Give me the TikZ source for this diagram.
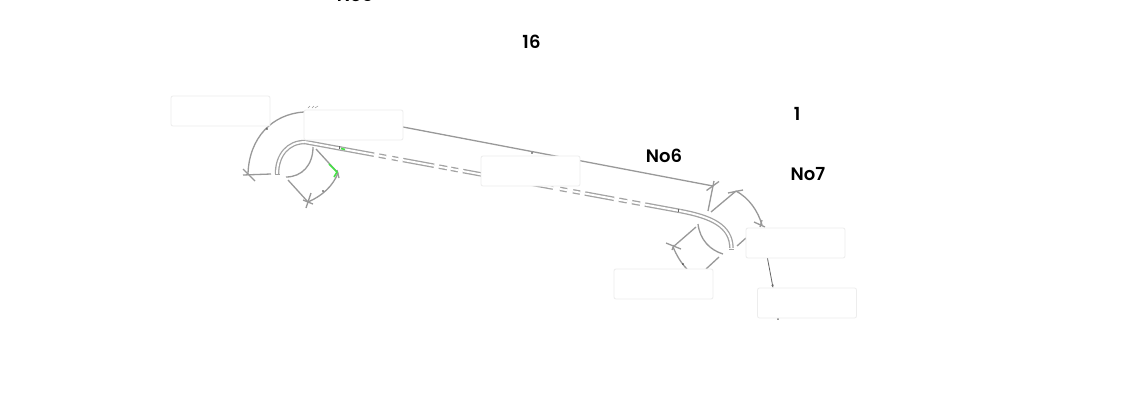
\documentclass[tikz,border=0pt]{standalone}
\usepackage{fontspec}
\setmainfont{Poppins}
\newfontfamily\tagfont{Poppins SemiBold}
\usetikzlibrary{arrows.meta, calc}

\definecolor{okgreen}{RGB}{70,225,70}

\tikzset{
  labelbox/.style={draw=black!7, fill=white, rounded corners=2pt, line width=0.8pt, minimum width=99pt, minimum height=30pt, inner sep=0pt},
  tag/.style={font=\fontsize{18}{20}\selectfont\tagfont, inner sep=0pt},
  pipe/.style={draw=black!36, double=white, double distance=1.9pt, line width=1.3pt},
  dim/.style={draw=black!40, line width=1.3pt},
  okmark/.style={draw=okgreen, line width=1.6pt},
  speck/.style={circle, fill=black!80, inner sep=0pt, minimum size=1.8pt}
}

\begin{document}
\begin{tikzpicture}[x=1pt, y=-1pt]
\path[use as bounding box, clip] (0,0) rectangle (1138,413);
\fill[white] (0,0) rectangle (1138,413);

\coordinate (PA) at (305,142);
\coordinate (PB) at (680,211);

% pipe, broken run in the middle
\draw[pipe] (277,174) .. controls (277,155) and (288,142) .. (PA);
\foreach \a/\b in {305/374, 379/386, 392/398, 403/434, 439/447, 451/458, 463/500, 530/553, 560/567, 573/580, 585/614, 619/627, 632/640, 645/680} {
  \draw[pipe] ($(PA)!{(\a-305)/375}!(PB)$) -- ($(PA)!{(\b-305)/375}!(PB)$);
}
\draw[pipe] (PB) .. controls (712,217) and (731,226) .. (731.5,248);
\draw[draw=black!36, line width=1pt] (275,174) -- (279.5,174);
\draw[draw=black!36, line width=1pt] (729,249) -- (734,249);
\draw[draw=black!60, line width=0.7pt] (339,146) -- (339,149);
\draw[draw=black!60, line width=0.7pt] (678.5,209) -- (678.5,212);

% left bend dimensions
\coordinate (LT) at (304,112);
\coordinate (LE) at (248,174);
\draw[dim] (LT) .. controls (272,114) and (249,138) .. (LE);
\draw[dim] (243,169) -- (255,181);
\draw[dim] (243,175) -- (271,174);
\draw[dim] (313,147) .. controls (313,165) and (302,177) .. (286,177);
\coordinate (LR) at (338,173);
\coordinate (LB) at (308,202);
\draw[dim] (316,149) -- (LR);
\draw[dim] (LR) .. controls (333,186) and (322,196) .. (LB);
\draw[dim] (288,180) -- (LB);
\draw[dim] (311,193) -- (306,208);
\draw[dim] (303,200) -- (313,204);
\draw[dim] (337,170) -- (339,178);
\draw[okmark] (329,164) -- (337,172) -- (334,177);
\draw[okmark] (341,148.5) -- (345,149.5);
\draw[dim, line width=0.5pt] (308,108) -- (310,106) (312,108) -- (314,106) (315,108) -- (318,106);
\node[speck] (s1) at (267,129) {};
\node[speck] (s2) at (323,191) {};

% top run dimension
\coordinate (TE) at (713,186);
\draw[dim] (403,127) -- (TE);
\draw[dim] (708,211) -- (714,181);
\draw[dim] (706.5,190.5) -- (719,181.5);
\node[speck] (s3) at (532,153) {};

% right bend dimensions
\coordinate (RT) at (736,191);
\coordinate (RE) at (762,225);
\draw[dim] (711,212) -- (RT);
\draw[dim] (728,193) -- (743,190);
\draw[dim] (RT) .. controls (749,198) and (758,211) .. (RE);
\draw[dim] (754,222) -- (765,227);
\draw[dim] (762,220) -- (760,227);
\draw[dim] (746,238) -- (737,246);
\draw[dim] (698,224) .. controls (700,240) and (710,250) .. (723,254);
\coordinate (RL) at (673,247);
\draw[dim] (696,227) -- (RL);
\draw[dim] (666,243) -- (681,249);
\draw[dim] (674,245) -- (672,250);
\draw[dim] (RL) .. controls (677,256) and (681,263) .. (687,269);
\draw[dim] (706,269) -- (719,257);
\node[speck] (s4) at (683,264) {};
\node[speck] (s5) at (778,319) {};

% boxes sit over the drawing
\node[labelbox] (B1) at (220.5,111) {};
\node[labelbox] (B2) at (353.5,125) {};
\node[labelbox] (B3) at (530.5,171) {};
\node[labelbox] (B4) at (663.5,284) {};
\node[labelbox] (B5) at (795.5,243) {};
\node[labelbox] (B6) at (807,303) {};
\draw[draw=black!60, line width=0.8pt, -{Stealth[length=3pt,width=2.5pt]}] ([xshift=-28pt]B5.south) -- ([xshift=-34pt]B6.north);

\node[tag] (T1) at (355,-5) {No5};
\node[tag] (T2) at (531.5,41.5) {16};
\node[tag] (T3) at (797,114) {1};
\node[tag] (T4) at (664,156) {No6};
\node[tag] (T5) at (808,174) {No7};
\end{tikzpicture}
\end{document}
